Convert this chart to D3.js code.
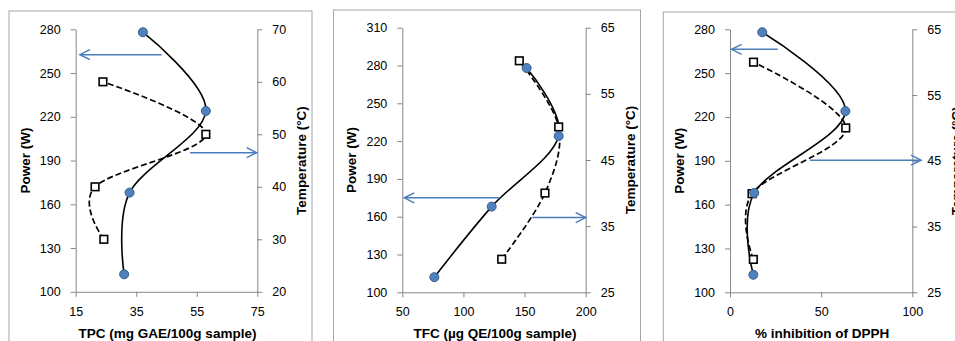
<!DOCTYPE html>
<html><head><meta charset="utf-8">
<script src="https://cdn.jsdelivr.net/npm/d3@7"></script>
<style>
body{margin:0;background:#fff;}
svg{display:block;font-family:"Liberation Sans",Arial,sans-serif;}
</style>
</head><body>
<svg id="c" width="955" height="341"></svg>
<script>
// ---- data ----
const power = [112, 168, 224, 278];          // W (left axis, solid line, circles)
const temperature = [30, 40, 50, 60];        // °C (right axis, dashed line, squares)

const tpcPower = [31.0, 32.8, 58.0, 37.2];
const tpcTemp  = [24.3, 21.4, 58.0, 24.0];

const tfcPower = [76.2, 123.1, 177.9, 151.7];
const tfcTemp  = [131.3, 166.7, 177.9, 145.7];

const dpphPower = [12.8, 13.3, 63.3, 17.7];
const dpphTemp  = [12.8, 12.1, 63.5, 12.9];

const xTitles = ["TPC (mg GAE/100g sample)", "TFC (µg QE/100g sample)", "% inhibition of DPPH"];
const yLeftTitle = "Power (W)";
const yRightTitle = "Temperature (°C)";

const xTicks1 = [15, 35, 55, 75];
const xTicks2 = [50, 100, 150, 200];
const xTicks3 = [0, 50, 100];
const powerTicks1 = [100, 130, 160, 190, 220, 250, 280];
const powerTicks2 = [100, 130, 160, 190, 220, 250, 280, 310];
const powerTicks3 = [100, 130, 160, 190, 220, 250, 280];
const tempTicks1 = [20, 30, 40, 50, 60, 70];
const tempTicks2 = [25, 35, 45, 55, 65];
const tempTicks3 = [25, 35, 45, 55, 65];

// arrows (data units): [axis, value on that axis, x start, x end]
const arrows1 = [["left", 262.6, 43.4, 16.4], ["right", 46.5, 52.8, 74.8]];
const arrows2 = [["left", 175, 129, 51.6], ["right", 36.3, 156.3, 200]];
const arrows3 = [["left", 266.3, 26.2, 0.9], ["right", 45.1, 43.9, 104.8]];

// ---- layout ----
const panels = [
  {frame:[9, 11, 303, 345], left:75.7, right:257.3, top:29.3, bottom:291.8,
   xDom:[15,75], xTicks:xTicks1, pDom:[100,280], pTicks:powerTicks1, tDom:[20,70], tTicks:tempTicks1,
   xp:tpcPower, xt:tpcTemp, arrows:arrows1, title:xTitles[0]},
  {frame:[333.5, 10, 307, 345], left:402.3, right:585.7, top:27.7, bottom:292.3,
   xDom:[50,200], xTicks:xTicks2, pDom:[100,310], pTicks:powerTicks2, tDom:[25,65], tTicks:tempTicks2,
   xp:tfcPower, xt:tfcTemp, arrows:arrows2, title:xTitles[1]},
  {frame:[663.3, 12, 320, 345], left:730, right:912.3, top:29.3, bottom:292.3,
   xDom:[0,100], xTicks:xTicks3, pDom:[100,280], pTicks:powerTicks3, tDom:[25,65], tTicks:tempTicks3,
   xp:dpphPower, xt:dpphTemp, arrows:arrows3, title:xTitles[2]}
];

const svg = d3.select("#c");
const axisCol = "#868686", blue = "#4a7ebb";

panels.forEach(p => {
  const g = svg.append("g");
  g.append("rect").attr("x", p.frame[0]).attr("y", p.frame[1])
    .attr("width", p.frame[2]).attr("height", p.frame[3])
    .attr("fill", "#fff").attr("stroke", "#a5a5a5").attr("stroke-width", 1);

  const x = d3.scaleLinear().domain(p.xDom).range([p.left, p.right]);
  const yP = d3.scaleLinear().domain(p.pDom).range([p.bottom, p.top]);
  const yT = d3.scaleLinear().domain(p.tDom).range([p.bottom, p.top]);

  const style = sel => {
    sel.select(".domain").attr("stroke", axisCol).attr("stroke-width", 1);
    sel.selectAll(".tick line").attr("stroke", axisCol);
    sel.selectAll(".tick text").attr("fill", "#000").style("font-size", "12.5px")
      .style("font-family", '"Liberation Sans",Arial,sans-serif');
  };

  g.append("g").attr("transform", `translate(0,${p.bottom})`)
    .call(d3.axisBottom(x).tickValues(p.xTicks).tickSize(5).tickSizeOuter(0).tickPadding(10)).call(style);
  g.append("g").attr("transform", `translate(${p.left},0)`)
    .call(d3.axisLeft(yP).tickValues(p.pTicks).tickSize(5).tickSizeOuter(0).tickPadding(10)).call(style);
  g.append("g").attr("transform", `translate(${p.right},0)`)
    .call(d3.axisRight(yT).tickValues(p.tTicks).tickSize(5).tickSizeOuter(0).tickPadding(10)).call(style);

  // titles
  g.append("text").attr("x", (p.left + p.right) / 2 + 1).attr("y", 337.5)
    .attr("text-anchor", "middle").attr("font-weight", "bold").attr("font-size", 13.5).text(p.title);
  g.append("text").attr("transform", `translate(${p.left - 46},${(p.top + p.bottom) / 2}) rotate(-90)`)
    .attr("text-anchor", "middle").attr("font-weight", "bold").attr("font-size", 13.5).text(yLeftTitle);
  g.append("text").attr("transform", `translate(${p.right + 49},${(p.top + p.bottom) / 2}) rotate(-90)`)
    .attr("text-anchor", "middle").attr("font-weight", "bold").attr("font-size", 13.5).text(yRightTitle);

  const curve = d3.curveCardinal.tension(0);
  const ptsP = power.map((v, i) => [p.xp[i], v]);
  const ptsT = temperature.map((v, i) => [p.xt[i], v]);

  g.append("path").attr("d", d3.line().x(d => x(d[0])).y(d => yT(d[1])).curve(curve)(ptsT))
    .attr("fill", "none").attr("stroke", "#000").attr("stroke-width", 1.7).attr("stroke-dasharray", "6,3");
  g.append("path").attr("d", d3.line().x(d => x(d[0])).y(d => yP(d[1])).curve(curve)(ptsP))
    .attr("fill", "none").attr("stroke", "#000").attr("stroke-width", 1.6);

  g.selectAll(".sq").data(ptsT).enter().append("rect")
    .attr("x", d => x(d[0]) - 3.8).attr("y", d => yT(d[1]) - 3.8)
    .attr("width", 7.6).attr("height", 7.6)
    .attr("fill", "#fff").attr("stroke", "#000").attr("stroke-width", 1.6);
  g.selectAll(".ci").data(ptsP).enter().append("circle")
    .attr("cx", d => x(d[0])).attr("cy", d => yP(d[1])).attr("r", 4.5)
    .attr("fill", "#4f81bd").attr("stroke", "#385d8a").attr("stroke-width", 1);

  // arrows
  p.arrows.forEach(a => {
    const yy = a[0] === "left" ? yP(a[1]) : yT(a[1]);
    const x1 = x(a[2]), x2 = x(a[3]);
    const dir = x2 < x1 ? 1 : -1;
    g.append("line").attr("x1", x1).attr("x2", x2).attr("y1", yy).attr("y2", yy)
      .attr("stroke", blue).attr("stroke-width", 1.5);
    g.append("path").attr("d", `M${x2 + dir * 10},${yy - 5}L${x2},${yy}L${x2 + dir * 10},${yy + 5}`)
      .attr("fill", "none").attr("stroke", blue).attr("stroke-width", 1.5);
  });
});
</script>
</body></html>
